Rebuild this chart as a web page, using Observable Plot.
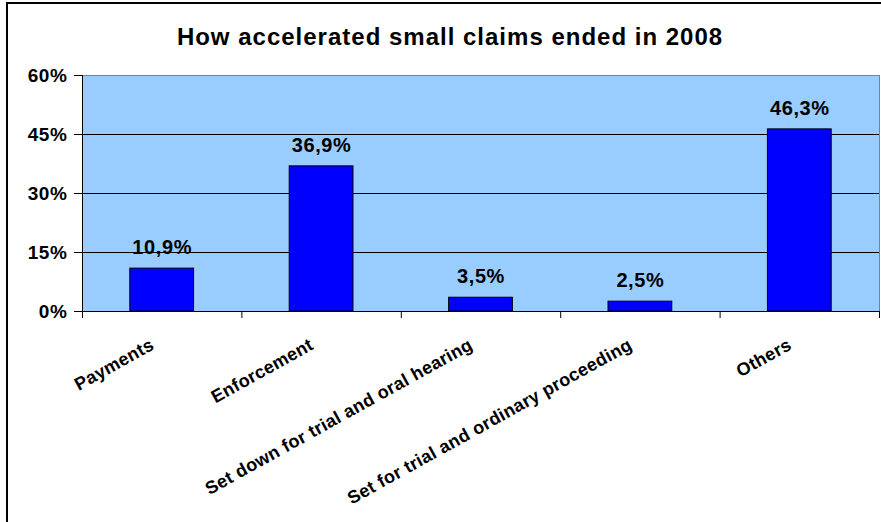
<!DOCTYPE html>
<html>
<head>
<meta charset="utf-8">
<script src="https://cdn.jsdelivr.net/npm/d3@7"></script>
<script src="https://cdn.jsdelivr.net/npm/@observablehq/plot@0.6"></script>
<style>
  html, body { margin: 0; padding: 0; background: #fff; overflow: hidden; }
  #wrap { position: relative; width: 881px; height: 522px; overflow: hidden; }
  #border { position: absolute; left: 6px; top: 2px; width: 1000px; height: 1000px; border: 2px solid #000; box-sizing: border-box; }
  #title { position: absolute; left: 0; top: 25px; width: 900px; text-align: center;
           font: bold 24px Arial, "Liberation Sans", sans-serif; line-height: 24px; letter-spacing: 1px; color: #000; }
  #chart { position: absolute; left: 0; top: 0; }
  #chart text { letter-spacing: 0.6px; }
  #chart g.cat text { letter-spacing: 0.3px; }
</style>
</head>
<body>
<div id="wrap">
  <div id="border"></div>
  <div id="title">How accelerated small claims ended in 2008</div>
  <div id="chart"></div>
</div>
<script>
const categories = ["Payments", "Enforcement", "Set down for trial and oral hearing", "Set for trial and ordinary proceeding", "Others"];
const values = [10.9, 36.9, 3.5, 2.5, 46.3];
const valueLabels = ["10,9%", "36,9%", "3,5%", "2,5%", "46,3%"];
const yTicks = [0, 15, 30, 45, 60];
const gridValues = [15, 30, 45];

const data = categories.map((c, i) => ({c, v: values[i], label: valueLabels[i], i}));
const boundaries = d3.range(categories.length + 1);

const chart = Plot.plot({
  width: 881,
  height: 522,
  marginTop: 75,
  marginBottom: 211,
  marginLeft: 82,
  marginRight: 2,
  style: {fontFamily: "Arial, 'Liberation Sans', sans-serif", background: "transparent", color: "#000", overflow: "visible"},
  x: {type: "linear", domain: [0, categories.length], axis: null},
  y: {domain: [0, 60], axis: null},
  marks: [
    Plot.frame({fill: "#99CCFF", stroke: "#808080"}),
    Plot.ruleY(gridValues, {stroke: "#000", strokeWidth: 1}),
    Plot.rectY(data, {x1: d => d.i + 0.3, x2: d => d.i + 0.7, y: "v", fill: "#0000FF", stroke: "#000", strokeWidth: 1}),
    Plot.ruleX([0], {stroke: "#000"}),
    Plot.ruleY([0], {stroke: "#000"}),
    Plot.axisY({ticks: yTicks, tickFormat: d => d + "%", tickSize: 8, tickPadding: 7, fontSize: 19, fontWeight: "bold", label: null}),
    Plot.axisX({ticks: boundaries, tickFormat: () => "", tickSize: 7, label: null}),
    Plot.text(data, {x: d => d.i + 0.5, frameAnchor: "bottom", text: "c", rotate: -29, textAnchor: "end", dy: 37, dx: -7, fontSize: 18, fontWeight: "bold", className: "cat"}),
    Plot.text(data, {x: d => d.i + 0.5, y: "v", text: "label", dy: -21, fontSize: 20, fontWeight: "bold"})
  ]
});
document.getElementById("chart").appendChild(chart);
</script>
</body>
</html>
